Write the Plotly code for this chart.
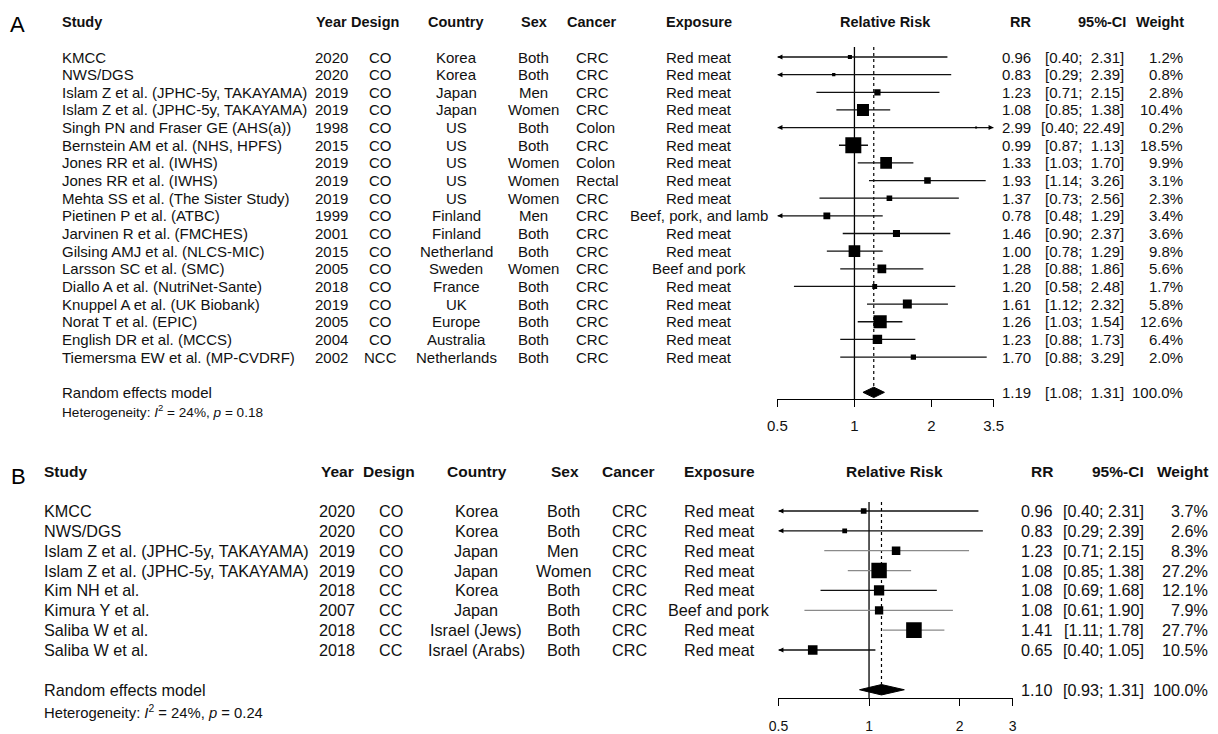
import math
import plotly.graph_objects as go

# ---------------- Panel A data ----------------
A_STUDY = ["KMCC", "NWS/DGS", "Islam Z et al. (JPHC-5y, TAKAYAMA)", "Islam Z et al. (JPHC-5y, TAKAYAMA)",
           "Singh PN and Fraser GE (AHS(a))", "Bernstein AM et al. (NHS, HPFS)", "Jones RR et al. (IWHS)",
           "Jones RR et al. (IWHS)", "Mehta SS et al. (The Sister Study)", "Pietinen P et al. (ATBC)",
           "Jarvinen R et al. (FMCHES)", "Gilsing AMJ et al. (NLCS-MIC)", "Larsson SC et al. (SMC)",
           "Diallo A et al. (NutriNet-Sante)", "Knuppel A et al. (UK Biobank)", "Norat T et al. (EPIC)",
           "English DR et al. (MCCS)", "Tiemersma EW et al. (MP-CVDRF)"]
A_YEAR = ["2020", "2020", "2019", "2019", "1998", "2015", "2019", "2019", "2019", "1999",
          "2001", "2015", "2005", "2018", "2019", "2005", "2004", "2002"]
A_DESIGN = ["CO"] * 17 + ["NCC"]
A_COUNTRY = ["Korea", "Korea", "Japan", "Japan", "US", "US", "US", "US", "US", "Finland",
             "Finland", "Netherland", "Sweden", "France", "UK", "Europe", "Australia", "Netherlands"]
A_SEX = ["Both", "Both", "Men", "Women", "Both", "Both", "Women", "Women", "Women", "Men",
         "Both", "Both", "Women", "Both", "Both", "Both", "Both", "Both"]
A_CANCER = ["CRC", "CRC", "CRC", "CRC", "Colon", "CRC", "Colon", "Rectal", "CRC", "CRC",
            "CRC", "CRC", "CRC", "CRC", "CRC", "CRC", "CRC", "CRC"]
A_EXPOSURE = ["Red meat"] * 9 + ["Beef, pork, and lamb", "Red meat", "Red meat", "Beef and pork",
                                  "Red meat", "Red meat", "Red meat", "Red meat", "Red meat"]
A_RR = [0.96, 0.83, 1.23, 1.08, 2.99, 0.99, 1.33, 1.93, 1.37, 0.78, 1.46, 1.00, 1.28, 1.20, 1.61, 1.26, 1.23, 1.70]
A_LO = [0.40, 0.29, 0.71, 0.85, 0.40, 0.87, 1.03, 1.14, 0.73, 0.48, 0.90, 0.78, 0.88, 0.58, 1.12, 1.03, 0.88, 0.88]
A_HI = [2.31, 2.39, 2.15, 1.38, 22.49, 1.13, 1.70, 3.26, 2.56, 1.29, 2.37, 1.29, 1.86, 2.48, 2.32, 1.54, 1.73, 3.29]
A_WEIGHT = [1.2, 0.8, 2.8, 10.4, 0.2, 18.5, 9.9, 3.1, 2.3, 3.4, 3.6, 9.8, 5.6, 1.7, 5.8, 12.6, 6.4, 2.0]
A_POOLED = [1.19, 1.08, 1.31]
A_HET = ["24%", "0.18"]
A_TICKS = [0.5, 1, 2, 3.5]
A_TICK_LABELS = ["0.5", "1", "2", "3.5"]

# ---------------- Panel B data ----------------
B_STUDY = ["KMCC", "NWS/DGS", "Islam Z et al. (JPHC-5y, TAKAYAMA)", "Islam Z et al. (JPHC-5y, TAKAYAMA)",
           "Kim NH et al.", "Kimura Y et al.", "Saliba W et al.", "Saliba W et al."]
B_YEAR = ["2020", "2020", "2019", "2019", "2018", "2007", "2018", "2018"]
B_DESIGN = ["CO", "CO", "CO", "CO", "CC", "CC", "CC", "CC"]
B_COUNTRY = ["Korea", "Korea", "Japan", "Japan", "Korea", "Japan", "Israel (Jews)", "Israel (Arabs)"]
B_SEX = ["Both", "Both", "Men", "Women", "Both", "Both", "Both", "Both"]
B_CANCER = ["CRC"] * 8
B_EXPOSURE = ["Red meat", "Red meat", "Red meat", "Red meat", "Red meat", "Beef and pork", "Red meat", "Red meat"]
B_RR = [0.96, 0.83, 1.23, 1.08, 1.08, 1.08, 1.41, 0.65]
B_LO = [0.40, 0.29, 0.71, 0.85, 0.69, 0.61, 1.11, 0.40]
B_HI = [2.31, 2.39, 2.15, 1.38, 1.68, 1.90, 1.78, 1.05]
B_WEIGHT = [3.7, 2.6, 8.3, 27.2, 12.1, 7.9, 27.7, 10.5]
B_POOLED = [1.10, 0.93, 1.31]
B_HET = ["24%", "0.24"]
B_TICKS = [0.5, 1, 2, 3]
B_TICK_LABELS = ["0.5", "1", "2", "3"]

HEADERS = ["Study", "Year", "Design", "Country", "Sex", "Cancer", "Exposure", "Relative Risk", "RR", "95%-CI", "Weight"]

# ---------------- styling / geometry (pixels) ----------------
W, H = 1218, 734
# horizontal calibration between figure pixels and the photographed page
X_OFF, X_SCALE = 10.0, 0.983
FONT = "Liberation Sans, Arial, sans-serif"
INK = "#111111"
B_CI_COLORS = ["#111111", "#111111", "#8a8a8a", "#8a8a8a", "#111111", "#8a8a8a", "#8a8a8a", "#111111"]

GEO = {
    "A": dict(row0=57, step=17.65, header=22, top=40, axis=399, vtop=47, x0=777, x1=993,
              xmin=0.5, xmax=3.5, het=411, letter=(10, 24), body=15, head=14.5, het_size=13.6,
              tick=15, sq=3.72, pad2=True, tickstand=6,
              cols=dict(study=(62, "left", 62, "left"), year=(331, "center", 331, "center"),
                        design=(380, "center", 375, "center"), country=(456, "center", 456, "center"),
                        sex=(533, "center", 534, "center"), cancer=(576, "left", 567, "left"),
                        exposure=(699, "center", 699, "center"), rr=(1030, "right", 1030, "right"),
                        ci=(1123, "right", 1125, "right"), weight=(1182, "right", 1183, "right"),
                        forest=885)),
    "B": dict(row0=511, step=19.86, header=472, top=495, axis=698, vtop=502, x0=778, x1=1012,
              xmin=0.5, xmax=3.0, het=712, letter=(11, 476), body=16.2, head=15.5, het_size=14.8,
              tick=14, sq=2.96, pad2=False, tickstand=8,
              cols=dict(study=(44, "left", 44, "left"), year=(337, "center", 337, "center"),
                        design=(391, "center", 389, "center"), country=(476, "center", 477, "center"),
                        sex=(563, "center", 565, "center"), cancer=(629, "center", 628, "center"),
                        exposure=(719, "center", 719, "center"), rr=(1052, "right", 1052, "right"),
                        ci=(1143, "right", 1143, "right"), weight=(1207, "right", 1207, "right"),
                        forest=894)),
}

fig = go.Figure()
annotations = []


def px(x):
    return min(max((x - X_OFF) / X_SCALE / W, 0.0), 1.0)


def py(y):
    return 1 - y / H


def add_panel(key, xa, ya, study, year, design, country, sex, cancer, exposure, rr, lo, hi, weight,
              pooled, het, ticks, ticklabels, ci_colors):
    g = GEO[key]
    n = len(study)
    idx = lambda p: (p - g["row0"]) / g["step"]
    rows = list(range(n))
    model_row = n + 1
    xref = "x" if xa == 1 else f"x{xa}"
    yref = "y" if ya == 1 else f"y{ya}"
    xname = "xaxis" if xa == 1 else f"xaxis{xa}"
    yname = "yaxis" if ya == 1 else f"yaxis{ya}"

    fig.layout[xname] = dict(type="log", range=[math.log10(g["xmin"]), math.log10(g["xmax"])],
                             domain=[px(g["x0"]), px(g["x1"])], anchor=yref,
                             showline=True, linecolor="black", linewidth=1.3, ticks="outside",
                             ticklen=7, tickwidth=1.3, tickcolor="black", tickvals=ticks, ticktext=ticklabels,
                             tickfont=dict(family=FONT, size=g["tick"], color=INK), showgrid=False,
                             zeroline=False, fixedrange=True, ticklabelstandoff=g["tickstand"])
    fig.layout[yname] = dict(domain=[py(g["axis"]), py(g["top"])], range=[idx(g["axis"]), idx(g["top"])],
                             visible=False, fixedrange=True, anchor=xref)

    # reference lines
    fig.add_trace(go.Scatter(x=[1, 1], y=[idx(g["vtop"]), idx(g["axis"])], mode="lines",
                             line=dict(color="black", width=1.3), xaxis=xref, yaxis=yref, hoverinfo="skip"))
    dh = 5.2 / g["step"]
    fig.add_trace(go.Scatter(x=[pooled[0], pooled[0]], y=[idx(g["vtop"]), model_row - dh], mode="lines",
                             line=dict(color="black", width=1.2, dash="dot"), xaxis=xref, yaxis=yref,
                             hoverinfo="skip"))

    # CI lines grouped by colour
    for col in sorted(set(ci_colors)):
        xs, ys = [], []
        for i in rows:
            if ci_colors[i] != col:
                continue
            xs += [max(lo[i], g["xmin"]), min(hi[i], g["xmax"]), None]
            ys += [i, i, None]
        fig.add_trace(go.Scatter(x=xs, y=ys, mode="lines", line=dict(color=col, width=1.3),
                                 xaxis=xref, yaxis=yref, hoverinfo="skip"))

    # arrows where CI leaves the axis range
    lx = [g["xmin"] for i in rows if lo[i] < g["xmin"]]
    ly = [i for i in rows if lo[i] < g["xmin"]]
    rx = [g["xmax"] for i in rows if hi[i] > g["xmax"]]
    ry = [i for i in rows if hi[i] > g["xmax"]]
    if lx:
        fig.add_trace(go.Scatter(x=lx, y=ly, mode="markers", cliponaxis=False,
                                 marker=dict(symbol="arrow-left", size=5, color="black", opacity=1),
                                 xaxis=xref, yaxis=yref, hoverinfo="skip"))
    if rx:
        fig.add_trace(go.Scatter(x=rx, y=ry, mode="markers", cliponaxis=False,
                                 marker=dict(symbol="arrow-right", size=5, color="black", opacity=1),
                                 xaxis=xref, yaxis=yref, hoverinfo="skip"))

    # squares (area proportional to weight)
    fig.add_trace(go.Scatter(x=rr, y=rows, mode="markers",
                             marker=dict(symbol="square", size=[max(g["sq"] * math.sqrt(w), 2) for w in weight],
                                         color="black", opacity=1, line=dict(width=0)),
                             xaxis=xref, yaxis=yref, hoverinfo="skip"))

    # pooled diamond
    fig.add_trace(go.Scatter(x=[pooled[1], pooled[0], pooled[2], pooled[0], pooled[1]],
                             y=[model_row, model_row - dh, model_row, model_row + dh, model_row],
                             mode="lines", fill="toself", fillcolor="black", line=dict(color="black", width=1),
                             xaxis=xref, yaxis=yref, hoverinfo="skip"))

    c = g["cols"]

    def txt(text, x, anchor, y, size, bold=False, paper=False):
        annotations.append(dict(text=f"<b>{text}</b>" if bold else text, x=px(x), xref="paper",
                                y=py(y) if paper else y, yref="paper" if paper else yref,
                                xanchor=anchor, yanchor="middle",
                                showarrow=False, borderpad=0, borderwidth=0,
                                font=dict(family=FONT, size=size, color=INK)))

    keys = ["study", "year", "design", "country", "sex", "cancer", "exposure", None, "rr", "ci", "weight"]
    for h, k in zip(HEADERS, keys):
        if k is None:
            txt(h, c["forest"], "center", g["header"], g["head"], bold=True, paper=True)
        else:
            txt(h, c[k][2], c[k][3], g["header"], g["head"], bold=True, paper=True)

    sep = "\u00a0"
    for i in rows:
        pad = sep * (2 if (g["pad2"] and hi[i] < 10) else 1)
        ci = f"[{lo[i]:.2f};{pad}{hi[i]:.2f}]"
        vals = dict(study=study[i], year=year[i], design=design[i], country=country[i], sex=sex[i],
                    cancer=cancer[i], exposure=exposure[i], rr=f"{rr[i]:.2f}", ci=ci, weight=f"{weight[i]:.1f}%")
        for k, v in vals.items():
            txt(v, c[k][0], c[k][1], i, g["body"])

    pad = sep * (2 if g["pad2"] else 1)
    txt("Random effects model", c["study"][0], "left", model_row, g["body"])
    txt(f"{pooled[0]:.2f}", c["rr"][0], "right", model_row, g["body"])
    txt(f"[{pooled[1]:.2f};{pad}{pooled[2]:.2f}]", c["ci"][0], "right", model_row, g["body"])
    txt("100.0%", c["weight"][0], "right", model_row, g["body"])
    txt(f"Heterogeneity: <i>I</i><sup>2</sup> = {het[0]}, <i>p</i> = {het[1]}", c["study"][0], "left",
        g["het"], g["het_size"], paper=True)

    annotations.append(dict(text=key, x=px(g["letter"][0]), y=py(g["letter"][1]), xref="paper", yref="paper",
                            xanchor="left", yanchor="middle", showarrow=False, borderpad=0, borderwidth=0,
                            font=dict(family=FONT, size=22, color="black")))


add_panel("A", 1, 1, A_STUDY, A_YEAR, A_DESIGN, A_COUNTRY, A_SEX, A_CANCER, A_EXPOSURE,
          A_RR, A_LO, A_HI, A_WEIGHT, A_POOLED, A_HET, A_TICKS, A_TICK_LABELS, ["#111111"] * len(A_RR))
add_panel("B", 2, 2, B_STUDY, B_YEAR, B_DESIGN, B_COUNTRY, B_SEX, B_CANCER, B_EXPOSURE,
          B_RR, B_LO, B_HI, B_WEIGHT, B_POOLED, B_HET, B_TICKS, B_TICK_LABELS, B_CI_COLORS)

fig.update_layout(width=W, height=H, margin=dict(l=0, r=0, t=0, b=0), paper_bgcolor="white",
                  plot_bgcolor="rgba(0,0,0,0)", showlegend=False, hovermode=False,
                  annotations=annotations, font=dict(family=FONT, color=INK))

fig.write_html("out.html", config={"displayModeBar": False, "responsive": False},
               post_script="document.documentElement.style.overflow='hidden';"
                           "document.body.style.margin='0';document.body.style.overflow='hidden';")
